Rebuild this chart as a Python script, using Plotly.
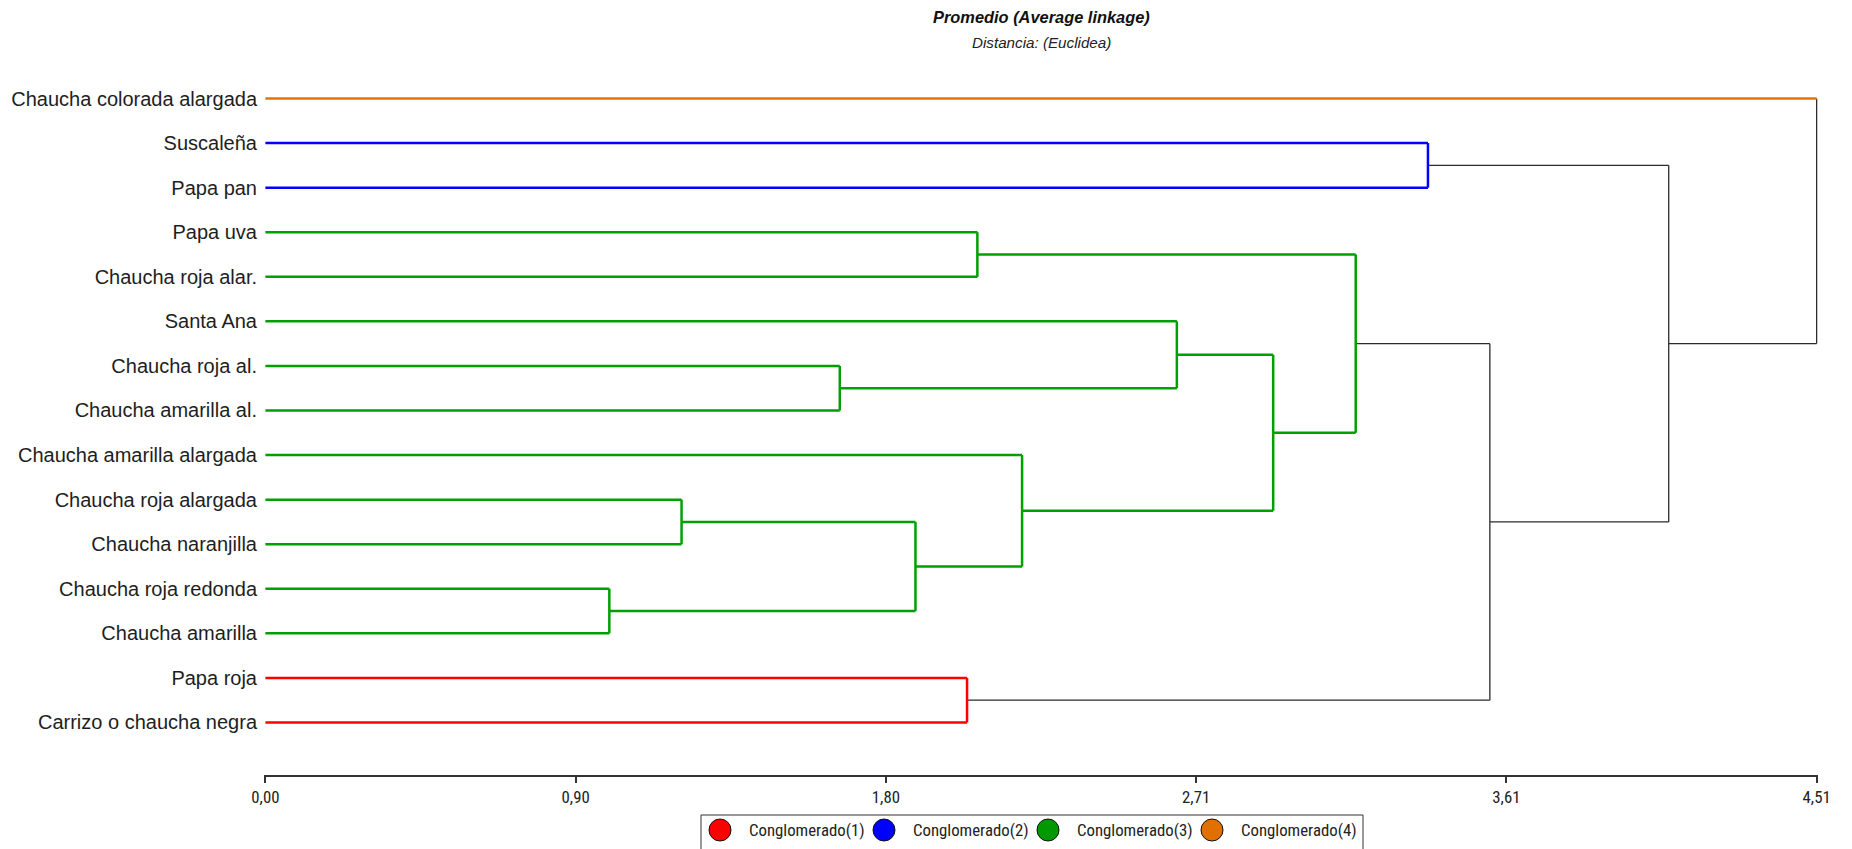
import plotly.graph_objects as go

# Leaves, listed top to bottom as they appear on the dendrogram
leaves = [
    "Chaucha colorada alargada",
    "Suscaleña",
    "Papa pan",
    "Papa uva",
    "Chaucha roja alar.",
    "Santa Ana",
    "Chaucha roja al.",
    "Chaucha amarilla al.",
    "Chaucha amarilla alargada",
    "Chaucha roja alargada",
    "Chaucha naranjilla",
    "Chaucha roja redonda",
    "Chaucha amarilla",
    "Papa roja",
    "Carrizo o chaucha negra",
]
leaf_cluster = [4, 2, 2, 3, 3, 3, 3, 3, 3, 3, 3, 3, 3, 1, 1]

# Merge steps (average linkage): ids < 15 are leaves, ids >= 15 are earlier merges
merge_left = [11, 9, 6, 15, 13, 3, 8, 5, 22, 20, 1, 24, 25, 0]
merge_right = [12, 10, 7, 16, 14, 4, 18, 17, 21, 23, 2, 19, 26, 27]
merge_height = [1.00, 1.21, 1.67, 1.89, 2.04, 2.07, 2.20, 2.65, 2.93, 3.17, 3.38, 3.56, 4.08, 4.51]

# Distance axis ticks
tick_values = [0.0, 0.902, 1.804, 2.706, 3.608, 4.51]
tick_labels = ["0,00", "0,90", "1,80", "2,71", "3,61", "4,51"]

cluster_names = ["Conglomerado(1)", "Conglomerado(2)", "Conglomerado(3)", "Conglomerado(4)"]
line_colors = {0: "#2b2b2b", 1: "#FF0000", 2: "#0000FF", 3: "#00A000", 4: "#E87400"}
legend_colors = ["#FF0000", "#0000FF", "#009900", "#E07000"]

# ---- build dendrogram segments ----
n = len(leaves)
pos = list(range(n))
hgt = [0.0] * n
clu = list(leaf_cluster)
segments = {c: ([], []) for c in line_colors}

for a, b, h in zip(merge_left, merge_right, merge_height):
    node_cl = clu[a] if clu[a] == clu[b] else 0
    for child in (a, b):
        if node_cl:
            c = node_cl
        elif child < n:
            c = clu[child]
        else:
            c = 0
        xs, ys = segments[c]
        xs += [hgt[child], h, None]
        ys += [pos[child], pos[child], None]
    xs, ys = segments[node_cl]
    xs += [h, h, None]
    ys += [pos[a], pos[b], None]
    pos.append((pos[a] + pos[b]) / 2)
    hgt.append(h)
    clu.append(node_cl)

fig = go.Figure()
for c in [0, 1, 2, 3, 4]:
    xs, ys = segments[c]
    fig.add_trace(go.Scatter(
        x=xs, y=ys, mode="lines",
        line=dict(color=line_colors[c], width=1.3 if c == 0 else 2.5),
        showlegend=False, hoverinfo="skip",
    ))

# ---- page geometry (pixels) ----
W, H = 1852, 849
L, R, T, B = 264, 1818, 55, 775
ROW0, ROW_STEP = 98.5, 44.57


def px(x):
    return (x - L) / (R - L)


def py(y):
    return (B - y) / (B - T)


narrow = "Liberation Sans Narrow, Arial Narrow, Roboto Condensed, Liberation Sans, sans-serif"
sans = "Liberation Sans, Arial, sans-serif"

annotations = [
    dict(text="<b><i>Promedio (Average linkage)</i></b>", x=0.5, y=py(17),
         xref="paper", yref="paper", showarrow=False, xanchor="center", yanchor="middle",
         font=dict(family=sans, size=16.4, color="#111111")),
    dict(text="<i>Distancia: (Euclidea)</i>", x=0.5, y=py(42),
         xref="paper", yref="paper", showarrow=False, xanchor="center", yanchor="middle",
         font=dict(family=sans, size=15.2, color="#222222")),
]

shapes = [
    dict(type="rect", xref="paper", yref="paper",
         x0=px(701), x1=px(1363), y0=py(853), y1=py(815),
         line=dict(color="#333333", width=1), fillcolor="white", layer="above"),
]

for i, (name, col) in enumerate(zip(cluster_names, legend_colors)):
    cx, cy, r = 720 + 164 * i, 830, 11
    shapes.append(dict(type="circle", xref="paper", yref="paper",
                       x0=px(cx - r), x1=px(cx + r), y0=py(cy + r), y1=py(cy - r),
                       fillcolor=col, line=dict(color="#111111", width=1), layer="above"))
    annotations.append(dict(text=name, x=px(cx + 27), y=py(cy), xref="paper", yref="paper",
                            showarrow=False, xanchor="left", yanchor="middle",
                            font=dict(family=narrow, size=16.8, color="#222222")))

fig.update_layout(
    width=W, height=H,
    margin=dict(l=L, r=W - R, t=T, b=H - B, pad=0),
    paper_bgcolor="white", plot_bgcolor="white",
    showlegend=False,
    annotations=annotations,
    shapes=shapes,
    xaxis=dict(
        range=[-0.004, 4.514], showgrid=False, zeroline=False,
        showline=True, linecolor="#333333", linewidth=2,
        ticks="outside", ticklen=6, tickwidth=1.5, tickcolor="#333333",
        tickvals=tick_values, ticktext=tick_labels,
        tickfont=dict(family=narrow, size=16.8, color="#222222"),
    ),
    yaxis=dict(
        range=[(B - ROW0) / ROW_STEP, (T - ROW0) / ROW_STEP],
        showgrid=False, zeroline=False, showline=False,
        ticks="", tickvals=list(range(n)), ticktext=leaves,
        tickfont=dict(family=sans, size=20, color="#1e1e1e"),
        ticklabelstandoff=6,
    ),
)

fig.write_html("out.html")
